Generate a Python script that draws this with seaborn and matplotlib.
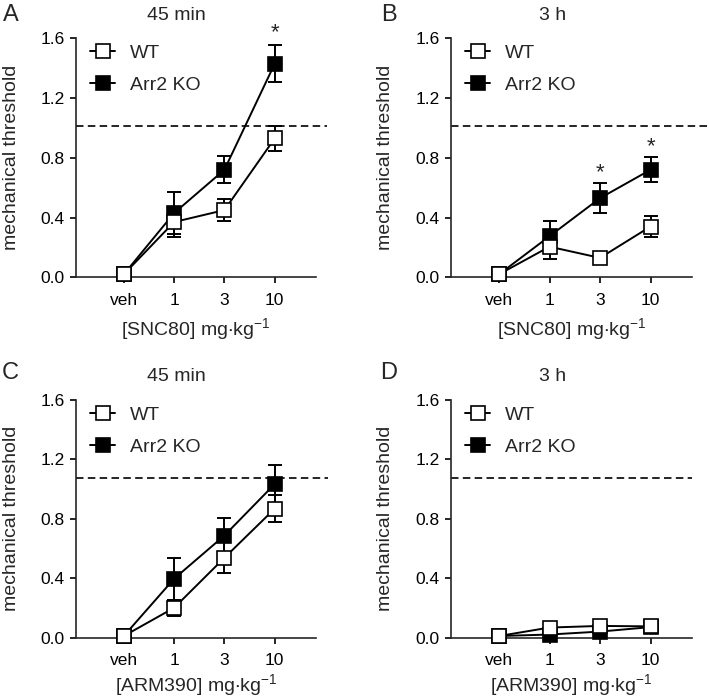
import numpy as np
import pandas as pd
import matplotlib
matplotlib.use('Agg')
import matplotlib.pyplot as plt
import seaborn as sns

sns.set_style('ticks')
plt.rcParams['font.family'] = ['Liberation Sans', 'DejaVu Sans']
plt.rcParams['mathtext.default'] = 'regular'

# ---------------- data ----------------
doses = ['veh', '1', '3', '10']
yticks = [0.0, 0.4, 0.8, 1.2, 1.6]
ytick_labels = ['0.0', '0.4', '0.8', '1.2', '1.6']

# Panel A: SNC80, 45 min
a_wt = [0.02, 0.37, 0.45, 0.93]
a_wt_err = [0.0, 0.10, 0.075, 0.085]
a_ko = [0.02, 0.43, 0.72, 1.43]
a_ko_err = [0.0, 0.14, 0.09, 0.125]
a_baseline = 1.013
a_stars = [(3, 1.635)]

# Panel B: SNC80, 3 h
b_wt = [0.02, 0.205, 0.13, 0.34]
b_wt_err = [0.0, 0.08, 0.03, 0.07]
b_ko = [0.02, 0.275, 0.53, 0.72]
b_ko_err = [0.0, 0.10, 0.10, 0.085]
b_baseline = 1.015
b_stars = [(2, 0.70), (3, 0.874)]

# Panel C: ARM390, 45 min
c_wt = [0.01, 0.20, 0.537, 0.868]
c_wt_err = [0.0, 0.055, 0.105, 0.09]
c_ko = [0.01, 0.396, 0.687, 1.034]
c_ko_err = [0.0, 0.14, 0.115, 0.125]
c_baseline = 1.074
c_stars = []

# Panel D: ARM390, 3 h
d_wt = [0.01, 0.067, 0.078, 0.075]
d_wt_err = [0.0, 0.015, 0.015, 0.015]
d_ko = [0.01, 0.02, 0.04, 0.07]
d_ko_err = [0.0, 0.01, 0.01, 0.01]
d_baseline = 1.074
d_stars = []

panels = [
    dict(letter='A', title='45 min', drug='SNC80', wt=a_wt, wt_err=a_wt_err, ko=a_ko, ko_err=a_ko_err,
         base=a_baseline, stars=a_stars, dash_end=1.046, xlabelpad=6,
         rect=[76/709, 1-277.3/700, 240/709, 239/700], letter_xy=(10.5, 15)),
    dict(letter='B', title='3 h', drug='SNC80', wt=b_wt, wt_err=b_wt_err, ko=b_ko, ko_err=b_ko_err,
         base=b_baseline, stars=b_stars, dash_end=1.062, xlabelpad=6,
         rect=[451/709, 1-277.3/700, 241/709, 239/700], letter_xy=(389, 15)),
    dict(letter='C', title='45 min', drug='ARM390', wt=c_wt, wt_err=c_wt_err, ko=c_ko, ko_err=c_ko_err,
         base=c_baseline, stars=c_stars, dash_end=1.05, xlabelpad=3,
         rect=[76/709, 1-637.5/700, 240/709, 237.5/700], letter_xy=(10.5, 373)),
    dict(letter='D', title='3 h', drug='ARM390', wt=d_wt, wt_err=d_wt_err, ko=d_ko, ko_err=d_ko_err,
         base=d_baseline, stars=d_stars, dash_end=1.0, xlabelpad=3,
         rect=[451/709, 1-637.5/700, 241/709, 237.5/700], letter_xy=(389, 373)),
]

fig = plt.figure(figsize=(7.09, 7.0), dpi=100)

LW = 1.4
MS = 10.5

for p in panels:
    ax = fig.add_axes(p['rect'])
    x = np.arange(len(doses))
    df = pd.DataFrame({
        'dose': np.concatenate([x, x]),
        'value': list(p['wt']) + list(p['ko']),
        'group': ['WT'] * len(doses) + ['Arr2 KO'] * len(doses),
    })

    ax.axhline(p['base'], xmin=0, xmax=p['dash_end'], color='black', lw=1.2,
               linestyle=(0, (4.5, 2.6)), clip_on=False, zorder=1)

    # KO first (behind), then WT
    ax.errorbar(x, p['ko'], yerr=p['ko_err'], fmt='none', ecolor='black',
                elinewidth=LW, capsize=4.8, capthick=LW, zorder=2)
    sns.lineplot(data=df[df['group'] == 'Arr2 KO'], x='dose', y='value', ax=ax,
                 color='black', marker='s', markersize=MS, markerfacecolor='black',
                 markeredgecolor='black', markeredgewidth=1.2, linewidth=LW,
                 errorbar=None, clip_on=False, zorder=3)
    ko_line = ax.lines[-1]
    ax.errorbar(x, p['wt'], yerr=p['wt_err'], fmt='none', ecolor='black',
                elinewidth=LW, capsize=4.8, capthick=LW, zorder=4)
    sns.lineplot(data=df[df['group'] == 'WT'], x='dose', y='value', ax=ax,
                 color='black', marker='s', markersize=MS, markerfacecolor='white',
                 markeredgecolor='black', markeredgewidth=1.2, linewidth=LW,
                 errorbar=None, clip_on=False, zorder=5)
    wt_line = ax.lines[-1]

    for sx, sy in p['stars']:
        ax.text(sx, sy, '*', ha='center', va='center', fontsize=16)

    ax.set_xlim(-0.95, 3.82)
    ax.set_ylim(0, 1.6)
    ax.set_xticks(x)
    ax.set_xticklabels(doses)
    ax.set_yticks(yticks)
    ax.set_yticklabels(ytick_labels)
    sns.despine(ax=ax)
    for s in ['left', 'bottom']:
        ax.spines[s].set_linewidth(1.2)
    ax.tick_params(direction='out', length=4.3, width=1.2, labelsize=12.5, pad=4,
                   colors='black')
    ax.tick_params(axis='x', pad=7)

    ax.set_xlabel(f'[{p["drug"]}] mg$\\cdot$kg$^{{-1}}$', fontsize=14, labelpad=p['xlabelpad'])
    ax.set_ylabel('mechanical threshold', fontsize=14)
    ax.yaxis.set_label_coords(-0.235, 0.5)

    ax.text(0.42, 1.097, p['title'], transform=ax.transAxes, ha='center', va='center',
            fontsize=14)

    leg = ax.legend(handles=[wt_line, ko_line], labels=['WT', 'Arr2 KO'], loc='upper left',
                    bbox_to_anchor=(0.058, 0.975), frameon=False, fontsize=14,
                    handlelength=1.3, handletextpad=0.75, labelspacing=0.75,
                    borderpad=0, borderaxespad=0)

    fig.text(p['letter_xy'][0] / 709, 1 - p['letter_xy'][1] / 700, p['letter'],
             ha='center', va='center', fontsize=17)

fig.savefig('out.png', dpi=100)
